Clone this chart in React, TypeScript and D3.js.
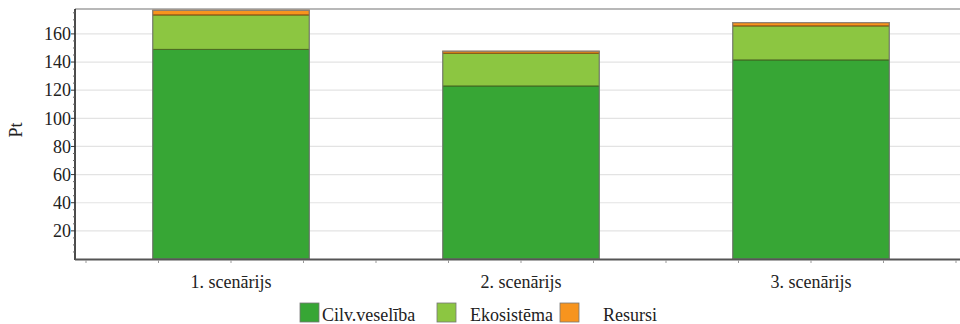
import React from "react";
import * as d3 from "d3";

const categories = ["1. scenārijs", "2. scenārijs", "3. scenārijs"];
const seriesNames = ["Cilv.veselība", "Ekosistēma", "Resursi"];
const cilvVeseliba = [149, 123, 141.5];
const ekosistema = [24.5, 23.3, 24.2];
const resursi = [3.3, 1.4, 2.3];
const yTicks = [20, 40, 60, 80, 100, 120, 140, 160];
const colors = ["#37a635", "#8cc641", "#f7941e"];
const strokes = ["#2a5e1e", "#4c6a22", "#8a4a10"];

const W = 960;
const H = 324;
const M = { left: 75, right: 960, top: 9, bottom: 259 };
const FONT = '"Liberation Serif", "Times New Roman", Times, serif';
const txt = { fontFamily: FONT, fontSize: 18, fill: "#222" } as const;

export default function App() {
  const x = d3.scaleBand<string>().domain(categories).range([86, 956]).padding(0);
  const y = d3.scaleLinear().domain([0, 177.7]).range([M.bottom, M.top]);
  const data = categories.map((c, i) => ({
    cat: c,
    "Cilv.veselība": cilvVeseliba[i],
    "Ekosistēma": ekosistema[i],
    Resursi: resursi[i],
  }));
  const stacked = d3.stack<any>().keys(seriesNames)(data);
  const bw = x.bandwidth() * 0.54;
  const step = x.step();

  const minorY = d3.range(5, 178, 5).filter((v) => v % 20 !== 0);
  const xTicks: number[] = [];
  for (let i = 0; i <= categories.length * 4; i++) xTicks.push(86 + (i * step) / 4);

  const legend = [
    { sq: 300, tx: 322 },
    { sq: 437, tx: 470 },
    { sq: 560, tx: 603 },
  ];

  return (
    <svg
      width={W}
      height={H}
      style={{ position: "absolute", left: 0, top: 0, background: "#fff" }}
    >
      {/* grid */}
      {yTicks.map((t) => (
        <line key={"g" + t} x1={M.left} x2={M.right} y1={y(t)} y2={y(t)} stroke="#e3e3e3" strokeWidth={1.2} />
      ))}
      <line x1={M.left} x2={M.right} y1={M.top} y2={M.top} stroke="#a0a0a0" strokeWidth={1.5} />

      {/* bars */}
      {categories.map((c, i) => {
        const x0 = (x(c) as number) + (x.bandwidth() - bw) / 2;
        return (
          <g key={c}>
            {stacked.map((s, k) => {
              const [a, b] = s[i];
              return (
                <rect
                  key={k}
                  x={x0}
                  y={y(b)}
                  width={bw}
                  height={y(a) - y(b)}
                  fill={colors[k]}
                  stroke={strokes[k]}
                  strokeWidth={1}
                />
              );
            })}
            <rect
              x={x0}
              y={y(stacked[stacked.length - 1][i][1])}
              width={bw}
              height={y(0) - y(stacked[stacked.length - 1][i][1])}
              fill="none"
              stroke="#8a8a8a"
              strokeWidth={1}
            />
          </g>
        );
      })}

      {/* y axis */}
      <line x1={M.left} x2={M.left} y1={M.top} y2={M.bottom + 1} stroke="#111" strokeWidth={1.5} />
      {minorY.map((t) => (
        <line key={"m" + t} x1={M.left - 2} x2={M.left} y1={y(t)} y2={y(t)} stroke="#666" strokeWidth={1} />
      ))}
      {yTicks.map((t) => (
        <g key={"t" + t}>
          <line x1={M.left - 4} x2={M.left} y1={y(t)} y2={y(t)} stroke="#333" strokeWidth={1} />
          <text x={71} y={y(t)} dy="0.35em" textAnchor="end" style={txt}>
            {t}
          </text>
        </g>
      ))}
      <text transform={`translate(22,130) rotate(-90)`} textAnchor="middle" style={txt}>
        Pt
      </text>

      {/* x axis */}
      <line x1={M.left} x2={M.right} y1={M.bottom + 0.5} y2={M.bottom + 0.5} stroke="#555" strokeWidth={2} />
      {xTicks.map((t, i) => (
        <line key={"xt" + i} x1={t} x2={t} y1={M.bottom + 1} y2={M.bottom + 4} stroke="#999" strokeWidth={1} />
      ))}
      {categories.map((c) => (
        <text key={"xl" + c} x={(x(c) as number) + x.bandwidth() / 2} y={288} textAnchor="middle" style={txt}>
          {c}
        </text>
      ))}

      {/* legend */}
      {seriesNames.map((s, k) => (
        <g key={"l" + s}>
          <rect x={legend[k].sq} y={303} width={19} height={19} fill={colors[k]} stroke="#777" strokeWidth={0.8} />
          <text x={legend[k].tx} y={321} style={txt}>
            {s}
          </text>
        </g>
      ))}
    </svg>
  );
}
